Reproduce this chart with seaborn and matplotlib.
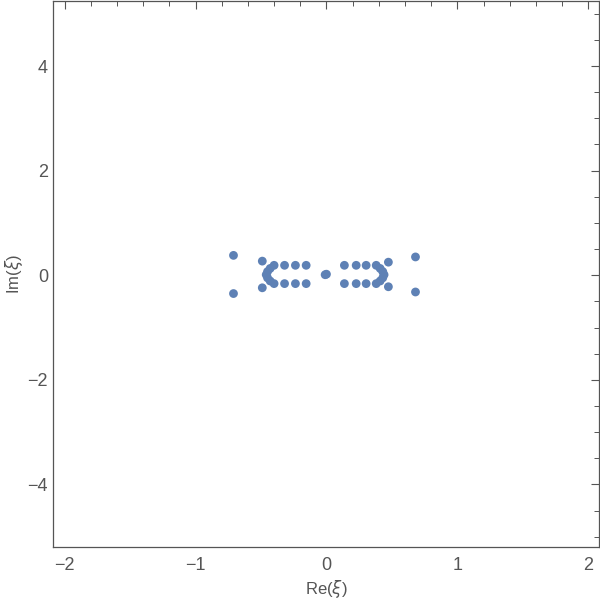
import numpy as np
import pandas as pd
import matplotlib
matplotlib.use("Agg")
import matplotlib.pyplot as plt
import seaborn as sns
from matplotlib.ticker import MultipleLocator, FuncFormatter

sns.set_style("white")
plt.rcParams["font.family"] = ["Liberation Sans", "DejaVu Sans"]
plt.rcParams["mathtext.fontset"] = "dejavusans"

# roots
re_vals = [-0.71, -0.71, -0.49, -0.49,
           -0.40, -0.43, -0.45, -0.46, -0.45, -0.43, -0.40,
           -0.32, -0.237, -0.155, -0.32, -0.237, -0.155,
           -0.01, 0.0,
           0.137, 0.227, 0.303, 0.137, 0.227, 0.303,
           0.38, 0.41, 0.43, 0.44, 0.43, 0.41, 0.38,
           0.473, 0.473, 0.68, 0.68]
im_vals = [0.38, -0.35, 0.27, -0.24,
           0.19, 0.13, 0.07, 0.01, -0.05, -0.11, -0.16,
           0.19, 0.19, 0.19, -0.16, -0.16, -0.16,
           0.01, 0.02,
           0.19, 0.19, 0.19, -0.16, -0.16, -0.16,
           0.19, 0.13, 0.07, 0.01, -0.05, -0.11, -0.16,
           0.25, -0.22, 0.35, -0.32]

df = pd.DataFrame({"re": re_vals, "im": im_vals})

gray = "#555555"
fig = plt.figure(figsize=(6, 6), dpi=100)
ax = fig.add_axes([0.088, 0.088, 0.91, 0.91])
sns.scatterplot(data=df, x="re", y="im", ax=ax, color="#5E81B5",
                s=40, edgecolor="none", zorder=3)

ax.set_xlim(-2.09, 2.08)
ax.set_ylim(-5.2, 5.24)
ax.xaxis.set_major_locator(MultipleLocator(1))
ax.xaxis.set_minor_locator(MultipleLocator(0.2))
ax.yaxis.set_major_locator(MultipleLocator(2))
ax.yaxis.set_minor_locator(MultipleLocator(0.5))
ax.tick_params(which="both", direction="in", top=True, right=True,
               color=gray, labelcolor=gray, labelsize=13)
ax.tick_params(which="major", length=6, width=0.8)
ax.tick_params(which="minor", length=3.5, width=0.7)
ax.tick_params(axis="x", pad=7)
fmt = FuncFormatter(lambda v, p: f"{int(round(v))}".replace("-", "\u2212"))
ax.xaxis.set_major_formatter(fmt)
ax.yaxis.set_major_formatter(fmt)
for sp in ax.spines.values():
    sp.set_color(gray)
    sp.set_linewidth(0.9)

ax.set_xlabel("Re($\\xi$)", color=gray, fontsize=12, labelpad=3)
ax.set_ylabel("Im($\\xi$)", color=gray, fontsize=12, labelpad=2)

fig.savefig("out.png", dpi=100)
